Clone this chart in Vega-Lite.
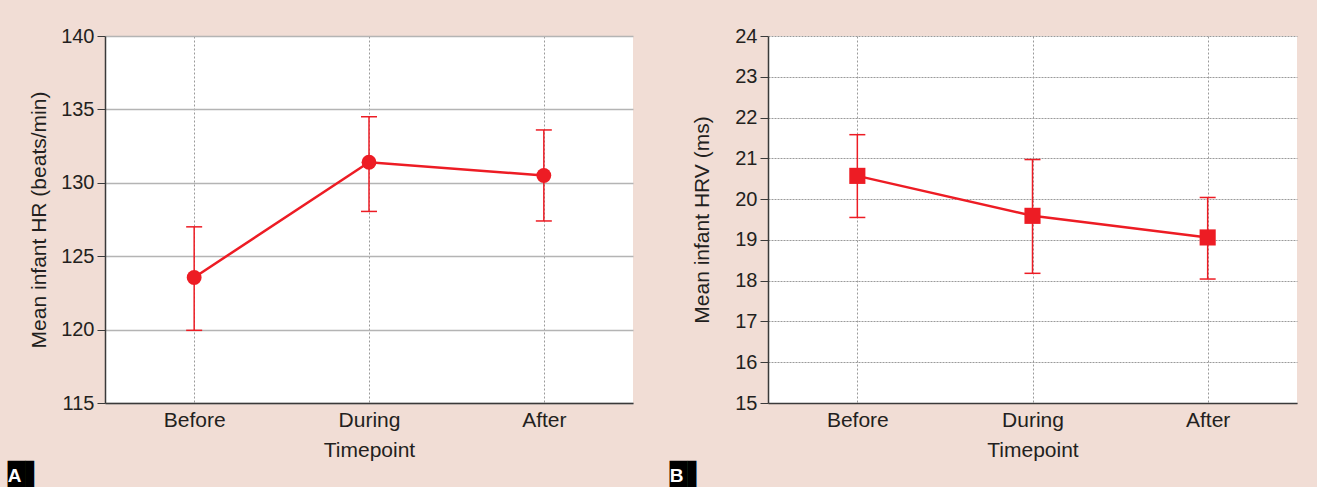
{
  "$schema": "https://vega.github.io/schema/vega-lite/v6.json",
  "background": "#f1ddd5",
  "padding": {"left": 7, "top": 26, "right": 20, "bottom": 6},
  "spacing": 36,
  "config": {
    "font": "Liberation Sans",
    "view": {"stroke": null, "fill": "#ffffff"},
    "axis": {
      "labelFontSize": 20, "labelColor": "#231f20", "titleFontSize": 21, "titleFontWeight": "normal",
      "titleColor": "#231f20", "domainColor": "#3a3a3a", "domainWidth": 1.5, "tickColor": "#3a3a3a"
    },
    "axisX": {"labelFontSize": 21}
  },
  "datasets": {
    "hr": [
      {"timepoint": "Before", "mean": 123.55, "low": 119.95, "high": 127.0},
      {"timepoint": "During", "mean": 131.4, "low": 128.05, "high": 134.5},
      {"timepoint": "After", "mean": 130.5, "low": 127.4, "high": 133.6}
    ],
    "hrv": [
      {"timepoint": "Before", "mean": 20.57, "low": 19.55, "high": 21.58},
      {"timepoint": "During", "mean": 19.59, "low": 18.18, "high": 20.97},
      {"timepoint": "After", "mean": 19.06, "low": 18.04, "high": 20.04}
    ]
  },
  "hconcat": [
    {
      "width": 528, "height": 367,
      "data": {"name": "hr"},
      "title": {"text": "█▌", "subtitle": " A", "orient": "bottom", "anchor": "start", "frame": "bounds", "font": "DejaVu Sans", "color": "#000000", "fontSize": 23, "subtitleFont": "Liberation Sans", "subtitleColor": "#ffffff", "subtitleFontSize": 19, "subtitleFontWeight": "bold", "subtitlePadding": -20, "offset": 4, "dx": -21},
      "encoding": {
        "x": {"field": "timepoint", "type": "ordinal", "sort": ["Before", "During", "After"], "scale": {"type": "point", "padding": 0.51},
          "axis": {"title": "Timepoint", "labelAngle": 0, "ticks": false, "labelPadding": 6, "titlePadding": 9, "grid": true, "gridColor": "#9a9a9a", "gridDash": [2, 2], "gridWidth": 1}}
      },
      "layer": [
        {"mark": {"type": "rule", "color": "#ed1c24", "strokeWidth": 1.5},
          "encoding": {"y": {"field": "low", "type": "quantitative", "title": "Mean infant HR (beats/min)", "scale": {"domain": [115, 140], "nice": false, "zero": false},
            "axis": {"values": [115, 120, 125, 130, 135, 140], "tickSize": 8, "labelPadding": 3, "titlePadding": 11, "gridColor": "#b4b4b4", "gridWidth": 1.5}},
            "y2": {"field": "high"}}},
        {"mark": {"type": "tick", "color": "#ed1c24", "thickness": 1.5, "size": 16, "opacity": 1},
          "encoding": {"y": {"field": "low", "type": "quantitative", "title": "Mean infant HR (beats/min)"}}},
        {"mark": {"type": "tick", "color": "#ed1c24", "thickness": 1.5, "size": 16, "opacity": 1},
          "encoding": {"y": {"field": "high", "type": "quantitative", "title": "Mean infant HR (beats/min)"}}},
        {"mark": {"type": "line", "color": "#ed1c24", "strokeWidth": 2.5},
          "encoding": {"y": {"field": "mean", "type": "quantitative", "title": "Mean infant HR (beats/min)"}}},
        {"mark": {"type": "point", "shape": "circle", "filled": true, "size": 220, "color": "#ed1c24", "opacity": 1},
          "encoding": {"y": {"field": "mean", "type": "quantitative", "title": "Mean infant HR (beats/min)"}}}
      ]
    },
    {
      "width": 529, "height": 367,
      "data": {"name": "hrv"},
      "title": {"text": "█▌", "subtitle": " B", "orient": "bottom", "anchor": "start", "frame": "bounds", "font": "DejaVu Sans", "color": "#000000", "fontSize": 23, "subtitleFont": "Liberation Sans", "subtitleColor": "#ffffff", "subtitleFontSize": 19, "subtitleFontWeight": "bold", "subtitlePadding": -20, "offset": 4, "dx": -22},
      "encoding": {
        "x": {"field": "timepoint", "type": "ordinal", "sort": ["Before", "During", "After"], "scale": {"type": "point", "padding": 0.51},
          "axis": {"title": "Timepoint", "labelAngle": 0, "ticks": false, "labelPadding": 6, "titlePadding": 9, "grid": true, "gridColor": "#9a9a9a", "gridDash": [2, 2], "gridWidth": 1}}
      },
      "layer": [
        {"mark": {"type": "rule", "color": "#ed1c24", "strokeWidth": 1.5},
          "encoding": {"y": {"field": "low", "type": "quantitative", "title": "Mean infant HRV (ms)", "scale": {"domain": [15, 24], "nice": false, "zero": false},
            "axis": {"values": [15, 16, 17, 18, 19, 20, 21, 22, 23, 24], "tickSize": 8, "labelPadding": 3, "titlePadding": 22, "gridColor": "#9a9a9a", "gridDash": [2, 1], "gridWidth": 1.2}},
            "y2": {"field": "high"}}},
        {"mark": {"type": "tick", "color": "#ed1c24", "thickness": 1.5, "size": 16, "opacity": 1},
          "encoding": {"y": {"field": "low", "type": "quantitative", "title": "Mean infant HRV (ms)"}}},
        {"mark": {"type": "tick", "color": "#ed1c24", "thickness": 1.5, "size": 16, "opacity": 1},
          "encoding": {"y": {"field": "high", "type": "quantitative", "title": "Mean infant HRV (ms)"}}},
        {"mark": {"type": "line", "color": "#ed1c24", "strokeWidth": 2.5},
          "encoding": {"y": {"field": "mean", "type": "quantitative", "title": "Mean infant HRV (ms)"}}},
        {"mark": {"type": "point", "shape": "square", "filled": true, "size": 260, "color": "#ed1c24", "opacity": 1},
          "encoding": {"y": {"field": "mean", "type": "quantitative", "title": "Mean infant HRV (ms)"}}}
      ]
    }
  ]
}
